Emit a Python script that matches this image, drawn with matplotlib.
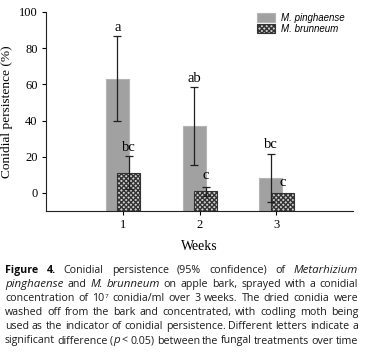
import matplotlib
matplotlib.use('Agg')
import matplotlib.pyplot as plt
import numpy as np

weeks = [1, 2, 3]
pinghaense = [63, 37, 8]
pinghaense_lo = [39.5, 15.5, -5]
pinghaense_hi = [86.5, 58.5, 21.5]
brunneum = [11, 1, 0]
brunneum_lo = [2, -1.5, 0]
brunneum_hi = [20.5, 3.5, 0]
letters_p = ['a', 'ab', 'bc']
letters_b = ['bc', 'c', 'c']

caption = [
    [('Figure 4.', 'b'), (' Conidial persistence (95% confidence) of ', 'n'), ('Metarhizium', 'i')],
    [('pinghaense', 'i'), (' and ', 'n'), ('M. brunneum', 'i'), (' on apple bark, sprayed with a conidial', 'n')],
    [('concentration of 10', 'n'), ('7', 'sup'), (' conidia/ml over 3 weeks. The dried conidia were', 'n')],
    [('washed off from the bark and concentrated, with codling moth being', 'n')],
    [('used as the indicator of conidial persistence. Different letters indicate a', 'n')],
    [('significant difference (', 'n'), ('p', 'i'), (' < 0.05) between the fungal treatments over time', 'n')],
]

W, H = 365, 360
fig = plt.figure(figsize=(W / 100, H / 100), dpi=100)
ax = fig.add_axes([46 / W, 1 - 211 / H, 307 / W, 199 / H])

x = np.array(weeks, dtype=float)
xp = x - 0.07
xb = x + 0.08
w = 0.3

bp = ax.bar(xp, np.array(pinghaense) + 10, w, bottom=-10, color='#a1a1a1', edgecolor='#b4b4b4',
            linewidth=0.8, label='M. pinghaense', zorder=2)
bb = ax.bar(xb, np.array(brunneum) + 10, w, bottom=-10, color='#cfcfcf', edgecolor='#333333',
            hatch='xxxxxxx', linewidth=0.8, label='M. brunneum', zorder=3)

p = np.array(pinghaense)
b = np.array(brunneum)
ax.errorbar(xp, p, yerr=[p - np.array(pinghaense_lo), np.array(pinghaense_hi) - p],
            fmt='none', ecolor='#202020', elinewidth=0.9, capsize=3, capthick=0.9, zorder=4)
ax.errorbar(xb[:2], b[:2], yerr=[(b - np.array(brunneum_lo))[:2], (np.array(brunneum_hi) - b)[:2]],
            fmt='none', ecolor='#202020', elinewidth=0.9, capsize=3, capthick=0.9, zorder=4)

lp_y = [91.5, 63.5, 26.5]
lb_y = [25, 9.5, 5.5]
for i in range(3):
    ax.text(xp[i], lp_y[i], letters_p[i], ha='center', va='center',
            family='Liberation Serif', fontsize=10.5, zorder=5)
    ax.text(xb[i], lb_y[i], letters_b[i], ha='center', va='center',
            family='Liberation Serif', fontsize=10.5, zorder=5)

ax.set_xlim(0, 4)
ax.set_ylim(-10, 100)
ax.set_yticks([0, 20, 40, 60, 80, 100])
ax.set_xticks(weeks)
for s in ['top', 'right']:
    ax.spines[s].set_visible(False)
for s in ['left', 'bottom']:
    ax.spines[s].set_linewidth(0.8)
    ax.spines[s].set_color('#222222')
ax.tick_params(length=3, width=0.8, labelsize=9, pad=3)
for lab in ax.get_xticklabels() + ax.get_yticklabels():
    lab.set_family('Liberation Serif')
ax.set_ylabel('Conidial persistence (%)', family='Liberation Serif', fontsize=9.6)
ax.yaxis.set_label_coords(-33 / 307, 0.5)
ax.set_xlabel('Weeks', family='Liberation Serif', fontsize=10)
ax.xaxis.set_label_coords(0.5, -29 / 199)

leg = ax.legend(loc='upper right', bbox_to_anchor=(1.0, 1.04), frameon=False,
                prop={'family': 'Liberation Sans', 'style': 'italic', 'size': 7},
                handlelength=1.8, handleheight=1.0, handletextpad=0.6, labelspacing=0.1)

# caption, justified line by line
fig.canvas.draw()
renderer = fig.canvas.get_renderer()
cap_font = 'Open Sans'
x0, x1 = 5, 358
y0 = 270
dy = 14.1

# size the caption font so that the fifth line fills the width with plain spaces
probe = fig.text(0, 0, ''.join(t for t, _ in caption[4]), family=cap_font, fontsize=10)
cap_size = 10 * (x1 - x0) / probe.get_window_extent(renderer).width
probe.remove()


def words_of(segs):
    words = [[]]
    for txt, st in segs:
        parts = txt.split(' ')
        for i, piece in enumerate(parts):
            if i > 0:
                words.append([])
            if piece:
                words[-1].append((piece, st))
    return [wd for wd in words if wd]


for li, segs in enumerate(caption):
    ypix = y0 + li * dy
    words = words_of(segs)
    objs = []
    total = 0
    for wd in words:
        items = []
        for piece, st in wd:
            kw = dict(family=cap_font, fontsize=cap_size, color='#1c1c1c', va='baseline')
            if st == 'b':
                kw['weight'] = 'bold'
                kw['color'] = '#0a0a0a'
            if st == 'i':
                kw['style'] = 'italic'
                kw['fontsize'] = cap_size * 1.08
            if st == 'sup':
                kw['fontsize'] = cap_size * 0.6
            t = fig.text(0, 0, piece, **kw)
            wpx = t.get_window_extent(renderer).width
            items.append((t, wpx, st))
            total += wpx
        objs.append(items)
    gap = (x1 - x0 - total) / max(len(objs) - 1, 1)
    cx = x0
    for items in objs:
        for t, wpx, st in items:
            yy = ypix - 3.5 if st == 'sup' else ypix
            t.set_position((cx / W, 1 - (yy + 3) / H))
            cx += wpx
        cx += gap

fig.savefig('out.png', dpi=100)
